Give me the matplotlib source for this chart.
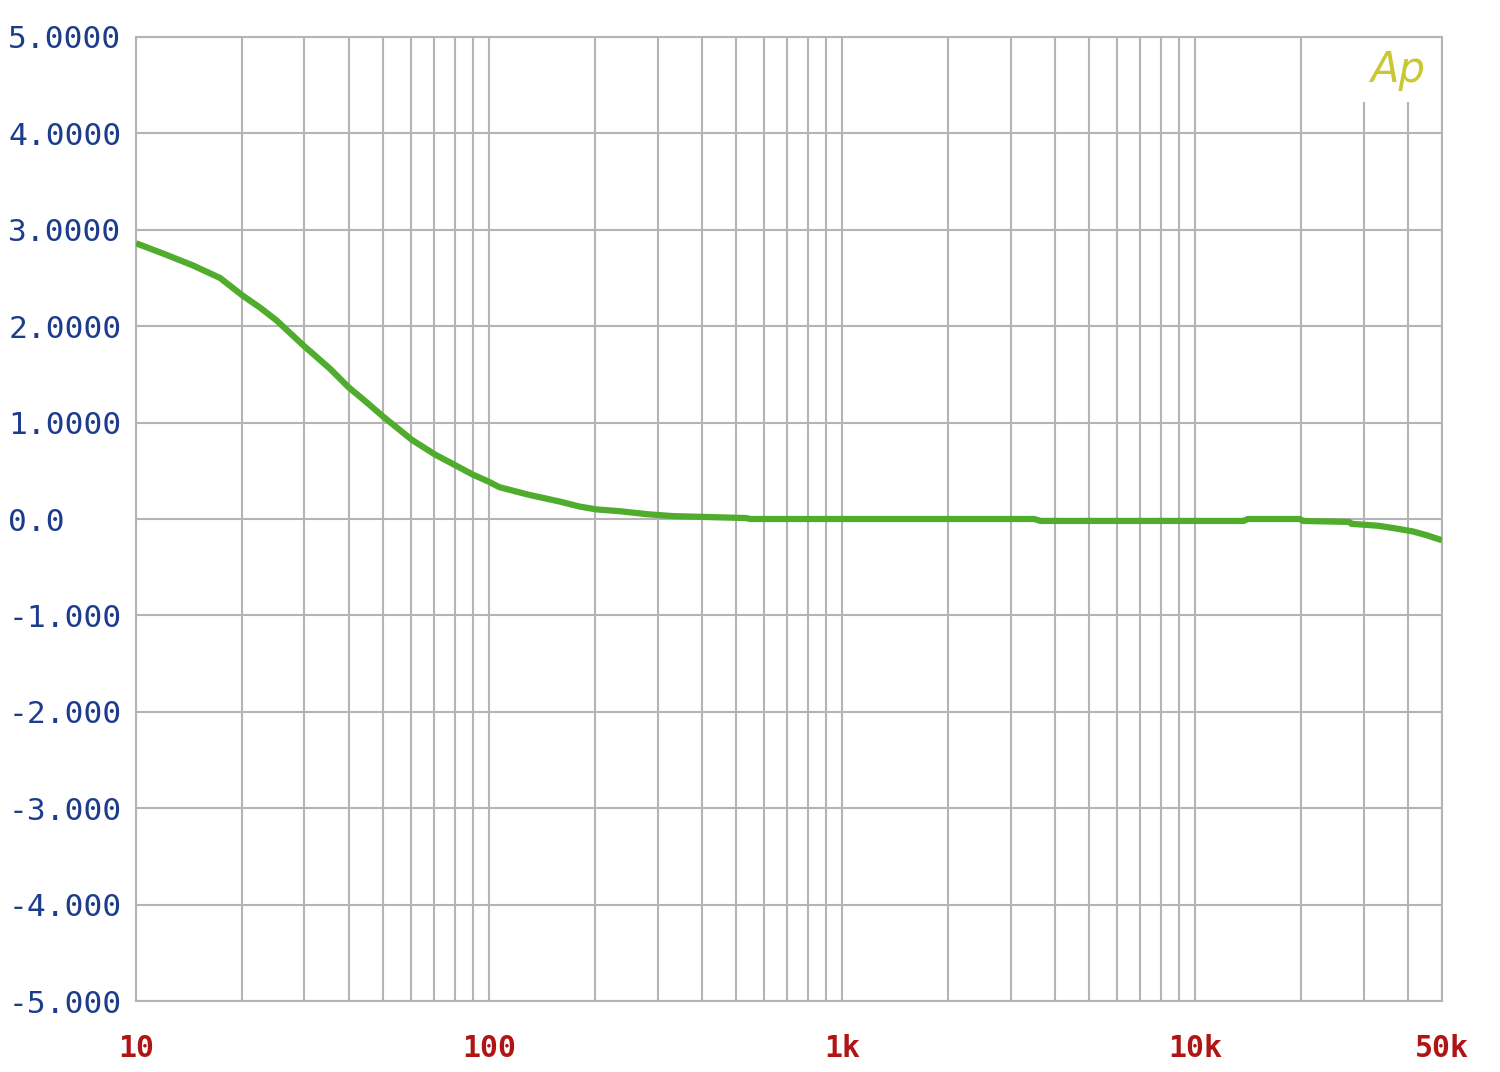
import numpy as np
import matplotlib.pyplot as plt

# response curve (Hz, dB)
freq = [10, 12, 14.5, 17.3, 20, 22.5, 25, 29.8, 35.4, 39.9, 45, 50.2, 60.5, 70.2,
        80, 90, 99.4, 107, 130, 159, 180, 201, 236, 280, 332, 535, 549,
        1000, 2000, 3500, 3650, 5000, 10000, 13700, 14100, 19800, 20200,
        27300, 27700, 33000, 37300, 41500, 45400, 50000]
level = [2.86, 2.75, 2.63, 2.50, 2.32, 2.19, 2.06, 1.80, 1.56, 1.37, 1.21, 1.06,
         0.82, 0.67, 0.56, 0.46, 0.39, 0.33, 0.25, 0.18, 0.13, 0.10, 0.08, 0.05,
         0.03, 0.01, 0.0, 0.0, 0.0, 0.0, -0.02, -0.02, -0.02, -0.02, 0.0, 0.0,
         -0.02, -0.03, -0.05, -0.07, -0.10, -0.13, -0.17, -0.22]

ytick_vals = [5, 4, 3, 2, 1, 0, -1, -2, -3, -4, -5]
ytick_labels = ["5.0000", "4.0000", "3.0000", "2.0000", "1.0000", "0.0",
                "-1.000", "-2.000", "-3.000", "-4.000", "-5.000"]
xtick_vals = [10, 100, 1000, 10000, 50000]
xtick_labels = ["10", "100", "1k", "10k", "50k"]

grid_col = "#b4b4b4"

fig = plt.figure(figsize=(15, 10.72), dpi=100)
ax = fig.add_axes([0.0907, 0.0662, 0.8706, 0.8993])
ax.set_xscale("log")
ax.set_xlim(10, 50000)
ax.set_ylim(-5, 5)

# grid lines
for y in ytick_vals:
    ax.axhline(y, color=grid_col, lw=1.5, zorder=1)
grid_f = [m * 10 ** d for d in range(1, 5) for m in range(1, 10) if m * 10 ** d <= 50000]
for f in grid_f:
    top = 4.33 if f in (30000, 40000) else 5
    ax.vlines(f, -5, top, color=grid_col, lw=1.5, zorder=1)

for s in ax.spines.values():
    s.set_color(grid_col)
    s.set_linewidth(1.5)

ax.plot(freq, level, color="#4fac2c", lw=4.5, zorder=3, solid_capstyle="butt")

ax.set_yticks(ytick_vals)
ax.set_yticklabels(ytick_labels, family="DejaVu Sans Mono", fontsize=22.5, color="#1c3c8c")
for lab in ax.get_yticklabels():
    lab.set_horizontalalignment("left")
ax.tick_params(axis="y", length=0, pad=92)

ax.xaxis.set_minor_locator(plt.NullLocator())
ax.set_xticks(xtick_vals)
ax.set_xticklabels(xtick_labels, family="DejaVu Sans Mono", fontsize=21.5,
                   color="#b01414", fontweight="bold")
ax.tick_params(axis="x", length=0, pad=24)

ax.text(0.966, 0.966, "Ap", transform=ax.transAxes, ha="center", va="center",
        fontsize=30, color="#c8c832", style="italic", fontweight=200,
        family="DejaVu Sans")

fig.savefig("out.png", dpi=100, facecolor="white")
